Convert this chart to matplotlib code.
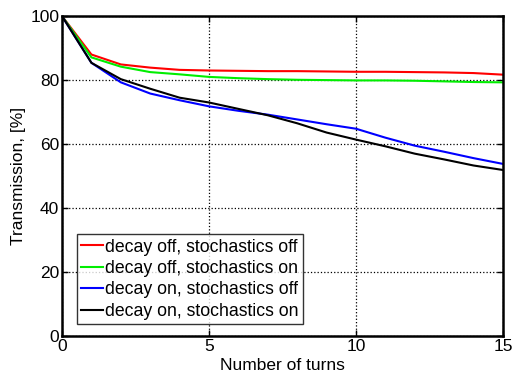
#!/usr/bin/env python3
"""Transmission vs. number of turns for the decay / stochastics cases."""

import matplotlib

matplotlib.use("Agg")
import matplotlib.pyplot as plt

turns = list(range(16))
decay_off_stoch_off = [100, 88.0, 84.9, 83.9, 83.2, 83.0, 82.9, 82.8, 82.8, 82.7, 82.6, 82.6, 82.5, 82.4, 82.2, 81.7]
decay_off_stoch_on = [100, 87.1, 84.2, 82.5, 81.8, 81.0, 80.6, 80.3, 80.1, 80.0, 79.9, 79.9, 79.8, 79.6, 79.4, 79.3]
decay_on_stoch_off = [100, 85.4, 79.3, 75.8, 73.7, 71.8, 70.4, 69.2, 67.7, 66.2, 64.8, 62.0, 59.5, 57.6, 55.6, 53.8]
decay_on_stoch_on = [100, 85.4, 80.3, 77.3, 74.5, 73.0, 71.0, 69.0, 66.5, 63.6, 61.4, 59.3, 57.0, 55.2, 53.3, 51.9]

labels = [
    "decay off, stochastics off",
    "decay off, stochastics on",
    "decay on, stochastics off",
    "decay on, stochastics on",
]
colors = ["#ff0000", "#00ee00", "#0000ff", "#000000"]
x_ticks = [0, 5, 10, 15]
y_ticks = [0, 20, 40, 60, 80, 100]

plt.rcParams.update({"font.family": ["Liberation Sans", "DejaVu Sans"], "font.size": 12.5})

fig = plt.figure(figsize=(5.13, 3.75), dpi=100)
ax = fig.add_axes([0.1209, 0.104, 0.8596, 0.853])

series = [decay_off_stoch_off, decay_off_stoch_on, decay_on_stoch_off, decay_on_stoch_on]
for values, label, color in zip(series, labels, colors):
    ax.plot(turns, values, color=color, linewidth=1.5, label=label)

ax.set_xlim(0, 15)
ax.set_ylim(0, 100)
ax.set_xticks(x_ticks)
ax.set_yticks(y_ticks)
ax.grid(True, color="black", linestyle=":", linewidth=0.9)
ax.tick_params(direction="in", top=True, right=True, length=4, width=1, pad=2)
for spine in ax.spines.values():
    spine.set_linewidth(1.8)

ax.set_xlabel("Number of turns", fontsize=12.5, labelpad=3)
ax.set_ylabel("Transmission, [%]", fontsize=12.5, labelpad=3)

leg = ax.legend(
    loc="lower left",
    bbox_to_anchor=(0.034, 0.037),
    frameon=True,
    fancybox=False,
    fontsize=12.7,
    handlelength=1.2,
    handletextpad=0.15,
    borderpad=0.25,
    labelspacing=0.25,
    borderaxespad=0,
)
leg.get_frame().set_edgecolor("black")
leg.get_frame().set_linewidth(1.0)

fig.savefig("out.png", dpi=100)
plt.close(fig)
